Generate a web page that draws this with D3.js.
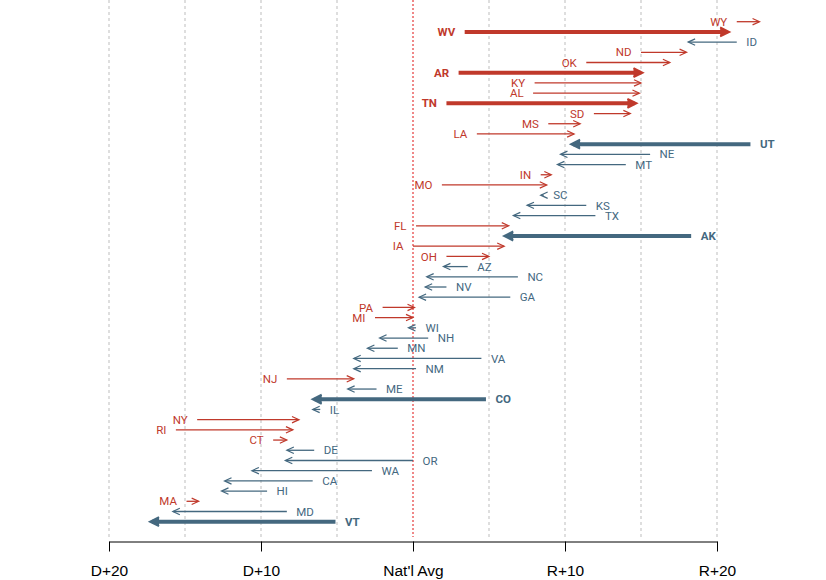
<!DOCTYPE html>
<html>
<head>
<meta charset="utf-8">
<script src="https://cdn.jsdelivr.net/npm/d3@7"></script>
<style>
  body { margin: 0; background: #fff; }
  .lbl { font-family: Roboto, "Liberation Sans", Arial, sans-serif; font-size: 11.5px; }
  .tick text { font-family: "Liberation Sans", Arial, sans-serif; font-size: 15.5px; }
</style>
</head>
<body>
<svg id="chart" width="826" height="580"></svg>
<script>
// state lean (positive = R, negative = D), earlier -> later
const states = ["WY","WV","ID","ND","OK","AR","KY","AL","TN","SD","MS","LA","UT","NE","MT","IN","MO","SC","KS","TX",
                "FL","AK","IA","OH","AZ","NC","NV","GA","PA","MI","WI","NH","MN","VA","NM","NJ","ME","CO","IL","NY",
                "RI","CT","DE","OR","WA","CA","HI","MA","MD","VT"];
const fromVals = [21.3, 3.4, 21.3, 15.0, 11.4, 3.0, 8.0, 7.9, 2.2, 11.9, 8.9, 4.2, 22.2, 15.6, 14.0, 8.4, 1.9, 8.6, 11.4, 12.0,
                  0.2, 18.3, 0.0, 2.2, 3.6, 6.9, 2.2, 6.4, -2.0, -2.5, 0.2, 1.0, -1.0, 4.5, 0.2, -8.3, -2.4, 4.8, -6.1, -14.2,
                  -15.6, -9.2, -6.5, 0.0, -2.7, -6.6, -9.6, -14.9, -8.3, -5.1];
const toVals   = [22.8, 20.8, 18.1, 18.0, 16.9, 15.1, 15.0, 14.9, 14.7, 14.3, 11.0, 10.6, 10.4, 9.7, 9.5, 9.1, 8.8, 8.4, 7.5, 6.6,
                  6.3, 6.0, 6.0, 5.0, 2.0, 0.9, 0.8, 0.4, 0.1, 0.0, -0.3, -2.2, -3.0, -3.9, -3.9, -3.9, -4.3, -6.6, -6.6, -7.5,
                  -7.9, -8.3, -8.3, -8.4, -10.6, -12.4, -12.6, -14.1, -15.8, -17.3];
const boldStates = ["WV","AR","TN","UT","AK","CO","VT"];
const tickVals = [-20, -10, 0, 10, 20];
const tickLabels = ["D+20", "D+10", "Nat'l Avg", "R+10", "R+20"];

const red = "#c0392b", blue = "#44687f";
const svg = d3.select("#chart");

const x = d3.scaleLinear().domain([-20, 20]).range([109, 717]);
const y = d3.scalePoint().domain(states).range([21.7, 521.7]);

const data = states.map((s, i) => ({ st: s, from: fromVals[i], to: toVals[i], bold: boldStates.includes(s) }));

// grid
svg.append("g").selectAll("line")
  .data(d3.range(-20, 21, 5))
  .join("line")
  .attr("x1", d => x(d)).attr("x2", d => x(d))
  .attr("y1", 0).attr("y2", 537)
  .attr("stroke", d => d == 0 ? "#e01010" : "#bdbdbd")
  .attr("stroke-width", 1)
  .attr("stroke-dasharray", d => d == 0 ? "2,2" : "3,3");

// axis
const axis = d3.axisBottom(x).tickValues(tickVals).tickFormat((d, i) => tickLabels[i]).tickSize(10).tickSizeOuter(0);
const ax = svg.append("g").attr("transform", "translate(0,541.5)").call(axis);
ax.select(".domain").attr("stroke", "#000");
ax.selectAll(".tick line").attr("stroke", "#000");
ax.selectAll(".tick text").attr("fill", "#000").attr("y", 34.5).attr("dy", 0);

// arrows
const g = svg.append("g");
data.forEach(d => {
  const col = d.to >= d.from ? red : blue;
  const dir = d.to >= d.from ? 1 : -1;
  const x0 = x(d.from), x1 = x(d.to), yy = y(d.st);
  const w = d.bold ? 4 : 1.3;
  const hl = d.bold ? 9 : 7, hw = d.bold ? 4.5 : 3.2;
  g.append("line")
    .attr("x1", x0).attr("x2", x1 - dir * (d.bold ? 2 : 0.5))
    .attr("y1", yy).attr("y2", yy)
    .attr("stroke", col).attr("stroke-width", w);
  g.append("path")
    .attr("d", `M${x1 - dir * hl},${yy - hw}L${x1},${yy}L${x1 - dir * hl},${yy + hw}`)
    .attr("fill", d.bold ? col : "none")
    .attr("stroke", col).attr("stroke-width", d.bold ? 2 : 1.2)
    .attr("stroke-linejoin", "miter");
  g.append("text")
    .attr("class", "lbl")
    .attr("x", x0 - dir * 9.5)
    .attr("y", yy)
    .attr("dy", "0.36em")
    .attr("text-anchor", dir > 0 ? "end" : "start")
    .attr("font-weight", d.bold ? "bold" : "normal")
    .attr("fill", col)
    .text(d.st);
});
</script>
</body>
</html>
